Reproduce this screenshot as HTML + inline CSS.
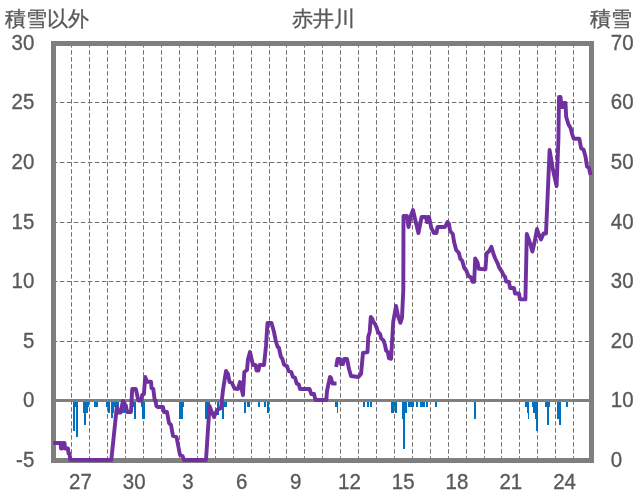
<!DOCTYPE html>
<html><head><meta charset="utf-8"><style>
html,body{margin:0;padding:0;background:#fff;}
svg{display:block;will-change:transform;}
text{font-family:"Liberation Sans",sans-serif;fill:#595959;font-size:22px;stroke:#595959;stroke-width:0.35px;}
</style></head><body>
<svg width="636" height="501" viewBox="0 0 636 501">
<rect width="636" height="501" fill="#fff"/>
<g stroke="#707070" stroke-width="1" stroke-dasharray="3.7 3.3" stroke-linecap="round" fill="none"><line x1="71.5" y1="43.55" x2="71.5" y2="460.5"/><line x1="89.5" y1="43.55" x2="89.5" y2="460.5"/><line x1="107.5" y1="43.55" x2="107.5" y2="460.5"/><line x1="125.5" y1="43.55" x2="125.5" y2="460.5"/><line x1="143.5" y1="43.55" x2="143.5" y2="460.5"/><line x1="161.5" y1="43.55" x2="161.5" y2="460.5"/><line x1="179.5" y1="43.55" x2="179.5" y2="460.5"/><line x1="197.5" y1="43.55" x2="197.5" y2="460.5"/><line x1="215.5" y1="43.55" x2="215.5" y2="460.5"/><line x1="233.5" y1="43.55" x2="233.5" y2="460.5"/><line x1="251.5" y1="43.55" x2="251.5" y2="460.5"/><line x1="269.5" y1="43.55" x2="269.5" y2="460.5"/><line x1="286.5" y1="43.55" x2="286.5" y2="460.5"/><line x1="304.5" y1="43.55" x2="304.5" y2="460.5"/><line x1="322.5" y1="43.55" x2="322.5" y2="460.5"/><line x1="340.5" y1="43.55" x2="340.5" y2="460.5"/><line x1="358.5" y1="43.55" x2="358.5" y2="460.5"/><line x1="376.5" y1="43.55" x2="376.5" y2="460.5"/><line x1="394.5" y1="43.55" x2="394.5" y2="460.5"/><line x1="412.5" y1="43.55" x2="412.5" y2="460.5"/><line x1="430.5" y1="43.55" x2="430.5" y2="460.5"/><line x1="448.5" y1="43.55" x2="448.5" y2="460.5"/><line x1="466.5" y1="43.55" x2="466.5" y2="460.5"/><line x1="484.5" y1="43.55" x2="484.5" y2="460.5"/><line x1="501.5" y1="43.55" x2="501.5" y2="460.5"/><line x1="519.5" y1="43.55" x2="519.5" y2="460.5"/><line x1="537.5" y1="43.55" x2="537.5" y2="460.5"/><line x1="555.5" y1="43.55" x2="555.5" y2="460.5"/><line x1="573.5" y1="43.55" x2="573.5" y2="460.5"/></g>
<g stroke="#707070" stroke-width="1" stroke-dasharray="3.7 3.3" stroke-linecap="round" fill="none"><line x1="53.25" y1="102.5" x2="591.5" y2="102.5"/><line x1="53.25" y1="162.5" x2="591.5" y2="162.5"/><line x1="53.25" y1="222.5" x2="591.5" y2="222.5"/><line x1="53.25" y1="281.5" x2="591.5" y2="281.5"/><line x1="53.25" y1="341.5" x2="591.5" y2="341.5"/></g>
<g fill="#0070c0" shape-rendering="crispEdges"><rect x="73.2" y="401.5" width="1.90" height="29.50"/><rect x="75.1" y="401.5" width="0.90" height="5.50"/><rect x="76" y="401.5" width="1.90" height="35.20"/><rect x="83.3" y="401.5" width="4.30" height="11.10"/><rect x="87.6" y="401.5" width="1.40" height="5.50"/><rect x="84" y="401.5" width="2.00" height="23.40"/><rect x="94" y="401.5" width="3.90" height="5.20"/><rect x="106.2" y="401.5" width="1.80" height="5.50"/><rect x="108" y="401.5" width="2.00" height="11.10"/><rect x="110.8" y="401.5" width="2.50" height="16.80"/><rect x="113.3" y="401.5" width="1.00" height="11.20"/><rect x="114.3" y="401.5" width="4.50" height="5.50"/><rect x="121.2" y="401.5" width="3.30" height="11.50"/><rect x="130.6" y="401.5" width="5.70" height="5.50"/><rect x="133.8" y="401.5" width="2.00" height="17.10"/><rect x="140.5" y="401.5" width="1.50" height="5.50"/><rect x="142" y="401.5" width="2.80" height="17.10"/><rect x="179.2" y="401.5" width="3.90" height="17.10"/><rect x="183" y="401.5" width="1.00" height="5.50"/><rect x="205.1" y="401.5" width="4.40" height="17.10"/><rect x="217" y="401.5" width="2.00" height="13.50"/><rect x="222" y="401.5" width="2.00" height="17.10"/><rect x="224" y="401.5" width="2.80" height="5.50"/><rect x="243.8" y="401.5" width="2.10" height="11.10"/><rect x="247.1" y="401.5" width="2.80" height="5.50"/><rect x="257.9" y="401.5" width="2.20" height="5.50"/><rect x="263.9" y="401.5" width="2.10" height="5.50"/><rect x="266.9" y="401.5" width="2.30" height="11.10"/><rect x="335.2" y="401.5" width="1.30" height="5.50"/><rect x="336.5" y="401.5" width="1.20" height="11.10"/><rect x="363.2" y="401.5" width="1.90" height="5.50"/><rect x="367" y="401.5" width="2.20" height="5.50"/><rect x="370.1" y="401.5" width="1.90" height="5.50"/><rect x="391.1" y="401.5" width="2.40" height="11.00"/><rect x="393.5" y="401.5" width="3.20" height="5.70"/><rect x="394.5" y="401.5" width="2.20" height="11.00"/><rect x="402.1" y="401.5" width="2.10" height="17.00"/><rect x="403" y="401.5" width="2.00" height="47.10"/><rect x="404" y="401.5" width="2.90" height="11.00"/><rect x="408" y="401.5" width="5.90" height="5.50"/><rect x="415.9" y="401.5" width="2.10" height="5.50"/><rect x="419.9" y="401.5" width="5.10" height="5.50"/><rect x="426.1" y="401.5" width="2.10" height="5.50"/><rect x="434.9" y="401.5" width="2.20" height="5.50"/><rect x="474" y="401.5" width="2.00" height="17.10"/><rect x="525.1" y="401.5" width="1.60" height="5.10"/><rect x="526.7" y="401.5" width="0.80" height="11.00"/><rect x="527.5" y="401.5" width="1.70" height="17.00"/><rect x="532.1" y="401.5" width="1.10" height="5.10"/><rect x="533.2" y="401.5" width="1.60" height="11.00"/><rect x="534.8" y="401.5" width="1.60" height="17.00"/><rect x="536.4" y="401.5" width="1.60" height="29.40"/><rect x="545" y="401.5" width="4.90" height="5.10"/><rect x="547" y="401.5" width="2.00" height="23.20"/><rect x="557.1" y="401.5" width="1.40" height="17.00"/><rect x="558.5" y="401.5" width="2.70" height="23.20"/><rect x="565.8" y="401.5" width="2.40" height="5.10"/></g>
<line x1="53.5" y1="400.5" x2="591.5" y2="400.5" stroke="#7f7f7f" stroke-width="3"/>
<rect x="53.5" y="43.5" width="538.0" height="417.0" fill="none" stroke="#7f7f7f" stroke-width="5"/>
<polyline points="53.1,443 60.5,443 61,448.5 62,448.5 62.5,443 64.5,443 65,448.5 68,448.5 68.5,453.5 69.5,453.5 70.2,459.8 111.3,460 116.8,407 118.3,412.5 120.5,412.5 123,401 126,406 127,412 131,412 132.2,389 135.8,389 137.6,397 138.5,400.5 141.6,400.5 142.1,395 143.9,394.2 145.2,377 147,381.7 151,381.7 151.5,388 153.3,389 154.6,399.6 155.5,400.5 156.4,406 158,407 163,407 164,412 167,412 169,423 171,425 173,436 176.5,437 180,455 182.5,456 184,460 206,460 209.5,406 211,410 214,417 217,410 221,408 223,390 226,371 228,374 229.5,382 232,383 234.5,388.5 238,389 240,382 243,395 244.3,372 247,370 248,359 250,352 251.8,360 253,365 255.5,365 256.5,370.5 258.5,370.5 259.5,365 264,365 266,346 267.5,323 271.5,323 274,332 275.8,341 277.5,346.5 279,348 280.8,356.5 282.4,359 284,364.5 287.2,366.5 288.5,371 291.2,372 292.9,376.8 295,377.8 296.7,383.4 298.8,384.5 300,389 309.5,389 311.3,394 314,394 315.5,400 326.3,400 327,391 330,377 331,378 332.5,383.5 336.5,383.5" fill="none" stroke="#7030a0" stroke-width="3.9" stroke-linejoin="round" stroke-linecap="butt"/>
<polyline points="336.2,367 337.5,359 340,359 341,364 343,364 344,359 347,359 349,369 351,376 358.4,377 361,374 363,353 367.5,352.2 368.3,336.5 369.7,332 370.8,317 372.4,319 373,321 375.2,324.3 376.8,328 377.9,332 380.1,334 381.2,338.5 383.4,340.2 385,345 386.1,350.5 387.8,352.2 388.9,358.2 391.1,358.8 393.2,322 396,306 398,316 400.4,322.8 402,318 403.3,290 403.5,216 407,216 408.5,227 410.5,217 413,210 415.3,220 418.4,233 421.6,217 426,217 427,222 428,217 429,217 431.3,228 434,233 436.5,233 437.5,227 445,227 447.5,222 449,224 450.1,231 452.8,234 454.1,242 456.2,250 458.9,253 460.2,258.5 462.3,261 464.3,268 466.3,270.5 468.4,276 471,277.5 472.4,281.7 474.2,281.7 475.2,258.4 477.6,262.8 478.8,268.8 485.4,269.4 486.6,253.2 489,251.4 491.4,246.8 493.2,253 495,258 497.4,262.8 499.2,267.6 501.6,271.2 503.4,274.8 505.2,277.2 506,281.5 509,282 510,288 514,288 515,293.5 519,293.5 520,299.4 525.4,299.4 526.8,234 530,243 532.4,251.5 534.8,241 537,229 539,235 541,239.5 543.5,233.5 546,233.5 549.6,150 553,170 556.6,186 558.4,140 559,97 560.5,97 561.5,107 563,107 564,103 565.5,103 566.2,117 568.5,124.5 570.6,128 572.3,134.5 573.7,138.7 579.3,138.7 581.2,148.5 583.5,149.5 585.6,157 587,166.5 589,168 590.6,175" fill="none" stroke="#7030a0" stroke-width="3.9" stroke-linejoin="round" stroke-linecap="butt"/>
<text transform="translate(34.3 49.90) scale(0.93 1)" text-anchor="end">30</text><text transform="translate(610.8 49.90) scale(0.93 1)">70</text><text transform="translate(34.3 109.47) scale(0.93 1)" text-anchor="end">25</text><text transform="translate(610.8 109.47) scale(0.93 1)">60</text><text transform="translate(34.3 169.04) scale(0.93 1)" text-anchor="end">20</text><text transform="translate(610.8 169.04) scale(0.93 1)">50</text><text transform="translate(34.3 228.61) scale(0.93 1)" text-anchor="end">15</text><text transform="translate(610.8 228.61) scale(0.93 1)">40</text><text transform="translate(34.3 288.19) scale(0.93 1)" text-anchor="end">10</text><text transform="translate(610.8 288.19) scale(0.93 1)">30</text><text transform="translate(34.3 347.76) scale(0.93 1)" text-anchor="end">5</text><text transform="translate(610.8 347.76) scale(0.93 1)">20</text><text transform="translate(34.3 407.33) scale(0.93 1)" text-anchor="end">0</text><text transform="translate(610.8 407.33) scale(0.93 1)">10</text><text transform="translate(34.3 466.90) scale(0.93 1)" text-anchor="end">-5</text><text transform="translate(610.8 466.90) scale(0.93 1)">0</text><text transform="translate(80.40 489) scale(0.93 1)" text-anchor="middle">27</text><text transform="translate(134.20 489) scale(0.93 1)" text-anchor="middle">30</text><text transform="translate(188.00 489) scale(0.93 1)" text-anchor="middle">3</text><text transform="translate(241.80 489) scale(0.93 1)" text-anchor="middle">6</text><text transform="translate(295.60 489) scale(0.93 1)" text-anchor="middle">9</text><text transform="translate(349.40 489) scale(0.93 1)" text-anchor="middle">12</text><text transform="translate(403.20 489) scale(0.93 1)" text-anchor="middle">15</text><text transform="translate(457.00 489) scale(0.93 1)" text-anchor="middle">18</text><text transform="translate(510.80 489) scale(0.93 1)" text-anchor="middle">21</text><text transform="translate(564.60 489) scale(0.93 1)" text-anchor="middle">24</text>
<text x="4.5" y="26.4" style="font-size:21px;letter-spacing:0px">積雪以外</text>
<text x="291.8" y="26.4" style="font-size:21px;letter-spacing:0px">赤井川</text>
<text x="589.5" y="26.4" style="font-size:21px;letter-spacing:0px">積雪</text>
</svg>
</body></html>
